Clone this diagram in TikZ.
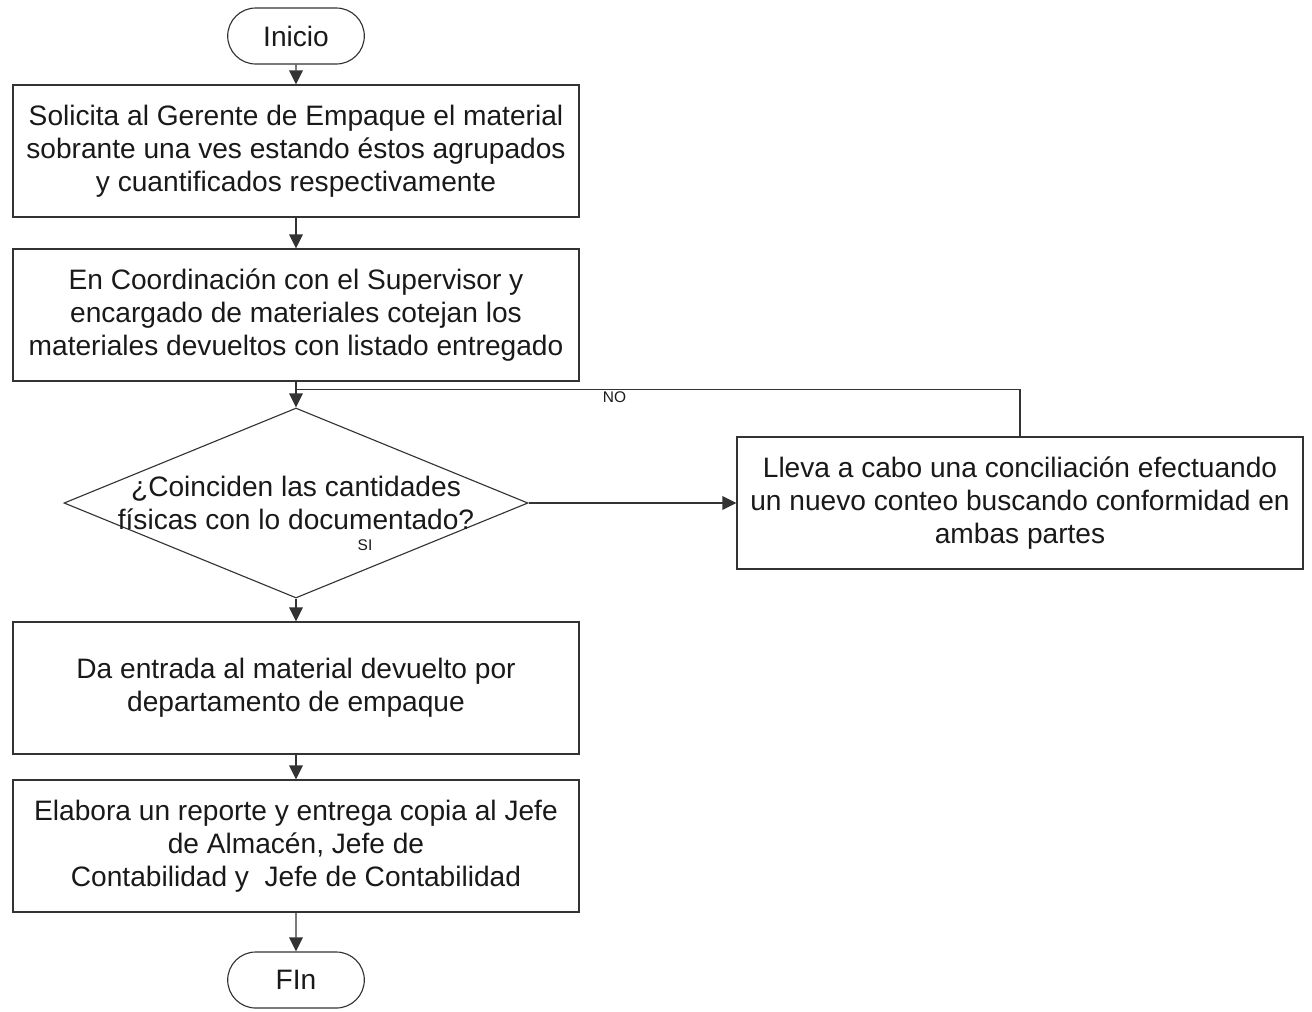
\documentclass[tikz,border=0pt]{standalone}
\usepackage{fontspec}
\setmainfont{Liberation Sans}
\usetikzlibrary{arrows.meta,calc,positioning,shapes.geometric,shapes.misc}

\begin{document}
\begin{tikzpicture}[node distance=3cm,on grid,
    >={Triangle[length=0.35cm,width=0.34cm]},
    every node/.style={text=black!90},
    line/.style={draw=black!80,line width=0.8pt},
    every edge/.style={line},
    proc/.style={line,rectangle,align=center,minimum width=14.15cm,minimum height=3.3cm,
      font=\fontsize{20}{23.5}\selectfont},
    term/.style={line,rounded rectangle,minimum width=3.65cm,minimum height=1.4cm,
      font=\fontsize{20}{23.5}\selectfont},
    decision/.style={line,diamond,inner sep=0pt,minimum width=11.6cm,minimum height=4.75cm},
    lbl/.style={font=\fontsize{11}{13}\selectfont,inner sep=1pt}]
  \useasboundingbox (0,0) rectangle (32.8,-25.275);
  \node[term]     (inicio) at (7.4,-0.9)            {Inicio};
  \node[proc]     (1) [below=2.875cm of inicio]     {Solicita al Gerente de Empaque el material\\sobrante una ves estando éstos agrupados\\y cuantificados respectivamente};
  \node[proc]     (2) [below=4.1cm of 1]            {En Coordinación con el Supervisor y\\encargado de materiales cotejan los\\materiales devueltos con listado entregado};
  \node[decision] (dec) [below=4.7cm of 2]          {};
  \node[align=center,font=\fontsize{20}{23.5}\selectfont] (dectext) at (dec.center)
                                                    {¿Coinciden las cantidades\\físicas con lo documentado?};
  \node[proc]     (conc) [right=18.1cm of dec]      {Lleva a cabo una conciliación efectuando\\un nuevo conteo buscando conformidad en\\ambas partes};
  \node[proc]     (3) [below=4.625cm of dec]        {Da entrada al material devuelto por\\departamento de empaque};
  \node[proc]     (4) [below=3.95cm of 3]           {Elabora un reporte y entrega copia al Jefe\\de Almacén, Jefe de\\Contabilidad y\ \ Jefe de Contabilidad};
  \node[term]     (fin) [below=3.35cm of 4]         {FIn};
  \node[lbl]      (si) [below right=1.05cm and 1.725cm of dec] {SI};
  \coordinate     (join) at ($(2.south)!0.32!(dec.north)$);
  \path[->] (inicio) edge (1)
            (1) edge (2)
            (2) edge (dec)
            (dec) edge (conc)
            (dec) edge (3)
            (3) edge (4)
            (4) edge (fin);
  \draw[line] (conc.north) |- node[lbl,pos=0.78,below] {NO} (join);
\end{tikzpicture}
\end{document}
